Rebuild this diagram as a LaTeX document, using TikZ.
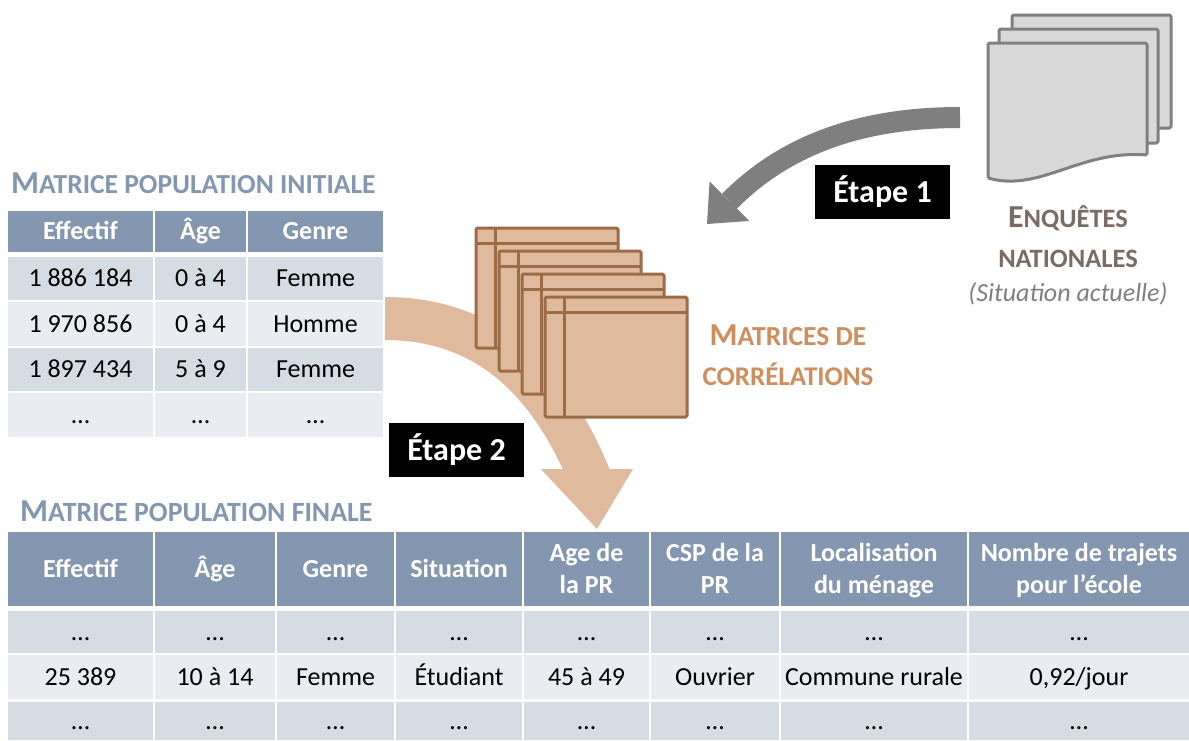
\documentclass[tikz,border=0pt]{standalone}
\usepackage{fontspec}
\setmainfont{Carlito}
\usetikzlibrary{arrows.meta}
\definecolor{hdrblue}{HTML}{8497B0}
\definecolor{titleblue}{HTML}{8497B0}
\definecolor{rowdark}{HTML}{D6DCE4}
\definecolor{rowlight}{HTML}{E9ECF0}
\definecolor{orfill}{HTML}{E0BA9C}
\definecolor{ordraw}{HTML}{9C6B47}
\definecolor{ortext}{HTML}{CF8E5E}
\definecolor{docfill}{HTML}{D9D9D9}
\definecolor{docdraw}{HTML}{808080}
\definecolor{arrowgrey}{HTML}{7F7F7F}
\definecolor{enqtext}{HTML}{7A6B63}
\definecolor{sittext}{HTML}{7F7F7F}
\newcommand{\cs}{\rule[-7.3pt]{0pt}{31.3pt}}
\newcommand{\cb}{\rule[-9pt]{0pt}{38.6pt}}
\tikzset{
  cellbase/.style={inner sep=0pt, outer sep=0pt, align=center, font=\fontsize{26}{32}\selectfont},
  hcell/.style={cellbase, fill=hdrblue, text=white, font=\bfseries\fontsize{26}{32}\selectfont},
  dcell/.style={cellbase, fill=rowdark, text=black},
  lcell/.style={cellbase, fill=rowlight, text=black},
  etape/.style={fill=black, text=white, inner sep=0pt, minimum width=135pt, minimum height=54pt, font=\bfseries\fontsize{32}{38}\selectfont},
  ttl/.style={anchor=base west, inner sep=0pt, text=titleblue, font=\bfseries},
  matlbl/.style={anchor=base, inner sep=0pt, text=ortext, font=\bfseries},
  enqlbl/.style={anchor=base, inner sep=0pt, text=enqtext, font=\bfseries},
  garrow/.style={draw=arrowgrey, line width=21pt, -{Triangle[width=56pt,length=32pt,line width=0pt]}},
  oshaft/.style={draw=orfill, line width=43pt},
  ohead/.style={fill=orfill},
  matbox/.style={fill=orfill, draw=ordraw, line width=3pt, rounded corners=1.5pt},
  matline/.style={draw=ordraw, line width=3pt},
  docbox/.style={fill=docfill, draw=docdraw, line width=3pt, rounded corners=1.5pt, line join=round},
}
\begin{document}
\begin{tikzpicture}[x=1pt,y=-1pt]
\useasboundingbox (0,0) rectangle (1189,740);
\fill[white] (0,0) rectangle (1189,740);

% ---- orange arrow (Etape 2)
\coordinate (o1s) at (385,318.5);
\coordinate (o1e) at (590,478);
\coordinate (o1l) at (541,469);
\coordinate (o1r) at (633,469);
\coordinate (o1t) at (597,529);
\draw[oshaft] (o1s) .. controls (490,318.5) and (552,385) .. (o1e);
\fill[ohead] (o1l) -- (o1r) -- (o1t) -- cycle;

% ---- top table
\node[ttl] (t1) at (11,193) {\fontsize{32}{32}\selectfont M\fontsize{27.5}{27.5}\selectfont ATRICE POPULATION INITIALE};

\node[hcell, minimum width=145pt, minimum height=41pt] (a-h1) at (80.5,231.5) {\cs Effectif};
\node[hcell, minimum width=91pt,  minimum height=41pt] (a-h2) at (200.5,231.5) {\cs Âge};
\node[hcell, minimum width=135pt, minimum height=41pt] (a-h3) at (315.5,231.5) {\cs Genre};

\node[dcell, minimum width=145pt, minimum height=43pt] (a-11) at (80.5,278.5) {\cs 1 886 184};
\node[dcell, minimum width=91pt,  minimum height=43pt] (a-12) at (200.5,278.5) {\cs 0 à 4};
\node[dcell, minimum width=135pt, minimum height=43pt] (a-13) at (315.5,278.5) {\cs Femme};

\node[lcell, minimum width=145pt, minimum height=44pt] (a-21) at (80.5,324) {\cs 1 970 856};
\node[lcell, minimum width=91pt,  minimum height=44pt] (a-22) at (200.5,324) {\cs 0 à 4};
\node[lcell, minimum width=135pt, minimum height=44pt] (a-23) at (315.5,324) {\cs Homme};

\node[dcell, minimum width=145pt, minimum height=43pt] (a-31) at (80.5,369.5) {\cs 1 897 434};
\node[dcell, minimum width=91pt,  minimum height=43pt] (a-32) at (200.5,369.5) {\cs 5 à 9};
\node[dcell, minimum width=135pt, minimum height=43pt] (a-33) at (315.5,369.5) {\cs Femme};

\node[lcell, minimum width=145pt, minimum height=44pt] (a-41) at (80.5,415) {\cs …};
\node[lcell, minimum width=91pt,  minimum height=44pt] (a-42) at (200.5,415) {\cs …};
\node[lcell, minimum width=135pt, minimum height=44pt] (a-43) at (315.5,415) {\cs …};

% ---- correlation matrices
\foreach \k in {0,1,2,3} {
  \pgfmathsetmacro{\lx}{476+23*\k}
  \pgfmathsetmacro{\ty}{228+23*\k}
  \draw[matbox] (\lx,\ty) rectangle ++(142,120);
  \draw[matline] (\lx+19,\ty) -- ++(0,120);
  \draw[matline] (\lx,\ty+15.5) -- ++(142,0);
}
\node[matlbl] (m1) at (788,345) {\fontsize{32}{32}\selectfont M\fontsize{27.5}{27.5}\selectfont ATRICES DE};
\node[matlbl] (m2) at (788,385) {\fontsize{27}{27}\selectfont CORRÉLATIONS};

% ---- grey arrow (Etape 1)
\coordinate (g1s) at (960,117.5);
\coordinate (g1e) at (707,224);
\draw[garrow] (g1s) .. controls (870,117.5) and (790,140) .. (g1e);

% ---- document stack
\draw[docbox] (1012,15) rectangle (1171,128);
\draw[docbox] (999,29) rectangle (1158,143);
\draw[docbox] (988,43) -- (1147,43) -- (1147,155)
   .. controls (1080,150) and (1040,192) .. (988,178) -- cycle;

\node[enqlbl] (n1) at (1068,227) {\fontsize{32}{32}\selectfont E\fontsize{26.5}{26.5}\selectfont NQUÊTES};
\node[enqlbl] (n2) at (1068,267) {\fontsize{26.5}{26.5}\selectfont NATIONALES};
\node[anchor=base, inner sep=0pt, text=sittext, font=\itshape\fontsize{26}{26}\selectfont] (n3) at (1068,301) {(Situation actuelle)};

% ---- step labels
\node[etape] (e1) at (882.5,192) {\cb Étape 1};
\node[etape] (e2) at (456.5,450) {\cb Étape 2};

% ---- bottom table
\node[ttl] (t2) at (20,521) {\fontsize{32}{32}\selectfont M\fontsize{27.8}{27.8}\selectfont ATRICE POPULATION FINALE};

\node[hcell, minimum width=145pt, minimum height=74pt] (b-h1) at (80.5,569) {\cs Effectif};
\node[hcell, minimum width=120pt, minimum height=74pt] (b-h2) at (215,569) {\cs Âge};
\node[hcell, minimum width=117pt, minimum height=74pt] (b-h3) at (335.5,569) {\cs Genre};
\node[hcell, minimum width=126pt, minimum height=74pt] (b-h4) at (459,569) {\cs Situation};
\node[hcell, minimum width=125pt, minimum height=74pt] (b-h5) at (586.5,569) {\cs Age de\\\cs la PR};
\node[hcell, minimum width=128pt, minimum height=74pt] (b-h6) at (715,569) {\cs CSP de la\\\cs PR};
\node[hcell, minimum width=186pt, minimum height=74pt] (b-h7) at (874,569) {\cs Localisation\\\cs du ménage};
\node[hcell, minimum width=220pt, minimum height=74pt] (b-h8) at (1079,569) {\cs Nombre de trajets\\\cs pour l’école};

\node[dcell, minimum width=145pt, minimum height=42pt] (b-11) at (80.5,632) {\cs …};
\node[dcell, minimum width=120pt, minimum height=42pt] (b-12) at (215,632) {\cs …};
\node[dcell, minimum width=117pt, minimum height=42pt] (b-13) at (335.5,632) {\cs …};
\node[dcell, minimum width=126pt, minimum height=42pt] (b-14) at (459,632) {\cs …};
\node[dcell, minimum width=125pt, minimum height=42pt] (b-15) at (586.5,632) {\cs …};
\node[dcell, minimum width=128pt, minimum height=42pt] (b-16) at (715,632) {\cs …};
\node[dcell, minimum width=186pt, minimum height=42pt] (b-17) at (874,632) {\cs …};
\node[dcell, minimum width=220pt, minimum height=42pt] (b-18) at (1079,632) {\cs …};

\node[lcell, minimum width=145pt, minimum height=44pt] (b-21) at (80.5,677) {\cs 25 389};
\node[lcell, minimum width=120pt, minimum height=44pt] (b-22) at (215,677) {\cs 10 à 14};
\node[lcell, minimum width=117pt, minimum height=44pt] (b-23) at (335.5,677) {\cs Femme};
\node[lcell, minimum width=126pt, minimum height=44pt] (b-24) at (459,677) {\cs Étudiant};
\node[lcell, minimum width=125pt, minimum height=44pt] (b-25) at (586.5,677) {\cs 45 à 49};
\node[lcell, minimum width=128pt, minimum height=44pt] (b-26) at (715,677) {\cs Ouvrier};
\node[lcell, minimum width=186pt, minimum height=44pt] (b-27) at (874,677) {\cs Commune rurale};
\node[lcell, minimum width=220pt, minimum height=44pt] (b-28) at (1079,677) {\cs 0,92/jour};

\node[dcell, minimum width=145pt, minimum height=38pt] (b-31) at (80.5,721) {\cs …};
\node[dcell, minimum width=120pt, minimum height=38pt] (b-32) at (215,721) {\cs …};
\node[dcell, minimum width=117pt, minimum height=38pt] (b-33) at (335.5,721) {\cs …};
\node[dcell, minimum width=126pt, minimum height=38pt] (b-34) at (459,721) {\cs …};
\node[dcell, minimum width=125pt, minimum height=38pt] (b-35) at (586.5,721) {\cs …};
\node[dcell, minimum width=128pt, minimum height=38pt] (b-36) at (715,721) {\cs …};
\node[dcell, minimum width=186pt, minimum height=38pt] (b-37) at (874,721) {\cs …};
\node[dcell, minimum width=220pt, minimum height=38pt] (b-38) at (1079,721) {\cs …};
\end{tikzpicture}
\end{document}
